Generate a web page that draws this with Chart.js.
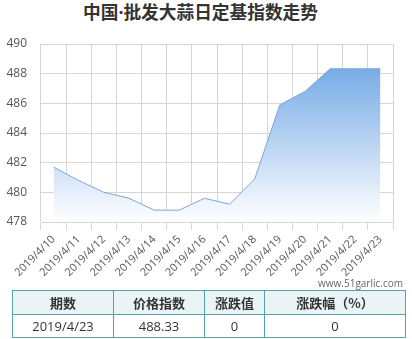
<!DOCTYPE html>
<html><head><meta charset="utf-8">
<script src="https://cdn.jsdelivr.net/npm/chart.js@4/dist/chart.umd.min.js"></script>
<style>
html,body{margin:0;padding:0;background:#fff;}
body{width:412px;height:339px;position:relative;overflow:hidden;font-family:"Open Sans","Noto Sans CJK SC",sans-serif;}
#title{position:absolute;left:0;width:401px;top:0;text-align:center;font-weight:bold;font-size:17.7px;font-family:"Open Sans","Noto Sans CJK SC",sans-serif;color:#333;line-height:25px;white-space:nowrap;}
#wrap{position:absolute;left:0;top:0;width:412px;height:285px;}
#wm{position:absolute;right:9px;top:276px;font-size:10px;color:#666;font-family:"Open Sans",sans-serif;line-height:14px;white-space:nowrap;}
table{position:absolute;left:12px;top:290px;width:393px;border-collapse:collapse;table-layout:fixed;}
td,th{border:1px solid #55a3a6;text-align:center;color:#333;font-size:13px;padding:0;}
th{background:#eaf4f6;height:23px;font-weight:bold;font-family:"Noto Sans CJK SC",sans-serif;}
td{height:22px;font-family:"Open Sans",sans-serif;}
</style>
</head><body>
<div id="title"></div>
<div id="wrap"><canvas id="c"></canvas></div>
<div id="wm"></div>
<table id="tbl"><colgroup><col style="width:101px"><col style="width:91px"><col style="width:60px"><col style="width:141px"></colgroup><thead><tr id="hr"></tr></thead><tbody><tr id="br"></tr></tbody></table>
<script>
const chartTitle = '中国·批发大蒜日定基指数走势';
const watermark = 'www.51garlic.com';
const categories = ['2019/4/10','2019/4/11','2019/4/12','2019/4/13','2019/4/14','2019/4/15','2019/4/16','2019/4/17','2019/4/18','2019/4/19','2019/4/20','2019/4/21','2019/4/22','2019/4/23'];
const indexValues = [481.7, 480.8, 480.0, 479.6, 478.8, 478.8, 479.6, 479.2, 480.9, 485.9, 486.8, 488.33, 488.33, 488.33];
const yMin = 478, yMax = 490, yStep = 2;
const tableHeaders = ['期数','价格指数','涨跌值','涨跌幅（%）'];
const tableRow = ['2019/4/23','488.33','0','0'];

document.getElementById('title').textContent = chartTitle;
document.getElementById('wm').textContent = watermark;
const hr = document.getElementById('hr');
tableHeaders.forEach(h => { const th = document.createElement('th'); th.textContent = h; hr.appendChild(th); });
const br = document.getElementById('br');
tableRow.forEach(v => { const td = document.createElement('td'); td.textContent = v; br.appendChild(td); });

const gridColor = '#d6d6d6';
new Chart(document.getElementById('c'), {
  type: 'line',
  data: {
    labels: categories,
    datasets: [{
      data: indexValues,
      borderColor: '#7aa7d8',
      borderWidth: 1,
      pointRadius: 0,
      tension: 0,
      fill: 'start',
      backgroundColor: (ctx) => {
        const chart = ctx.chart; const area = chart.chartArea;
        if (!area) return 'rgba(110,168,230,0.5)';
        const g = chart.ctx.createLinearGradient(0, area.top, 0, area.bottom);
        g.addColorStop(0, 'rgba(98,158,226,1)');
        g.addColorStop(1, 'rgba(255,255,255,1)');
        return g;
      }
    }]
  },
  options: {
    responsive: true,
    maintainAspectRatio: false,
    animation: false,
    layout: { padding: { top: 44, left: 0, right: 19, bottom: 0 } },
    plugins: { legend: { display: false }, tooltip: { enabled: false }, title: { display: false } },
    scales: {
      x: {
        offset: true,
        grid: { offset: true, color: gridColor, tickLength: 8, tickColor: gridColor },
        border: { color: gridColor },
        ticks: { minRotation: 45, maxRotation: 45, autoSkip: false, color: '#555', font: { size: 11, family: 'Open Sans' } },
        afterFit: (s) => { s.height = 63; }
      },
      y: {
        min: yMin, max: yMax,
        grid: { color: gridColor, drawTicks: false },
        border: { display: false },
        ticks: { stepSize: yStep, padding: 14, color: '#555', font: { size: 12, family: 'Open Sans' } },
        afterFit: (s) => { s.width = 41; }
      }
    }
  }
});
</script>
</body></html>
